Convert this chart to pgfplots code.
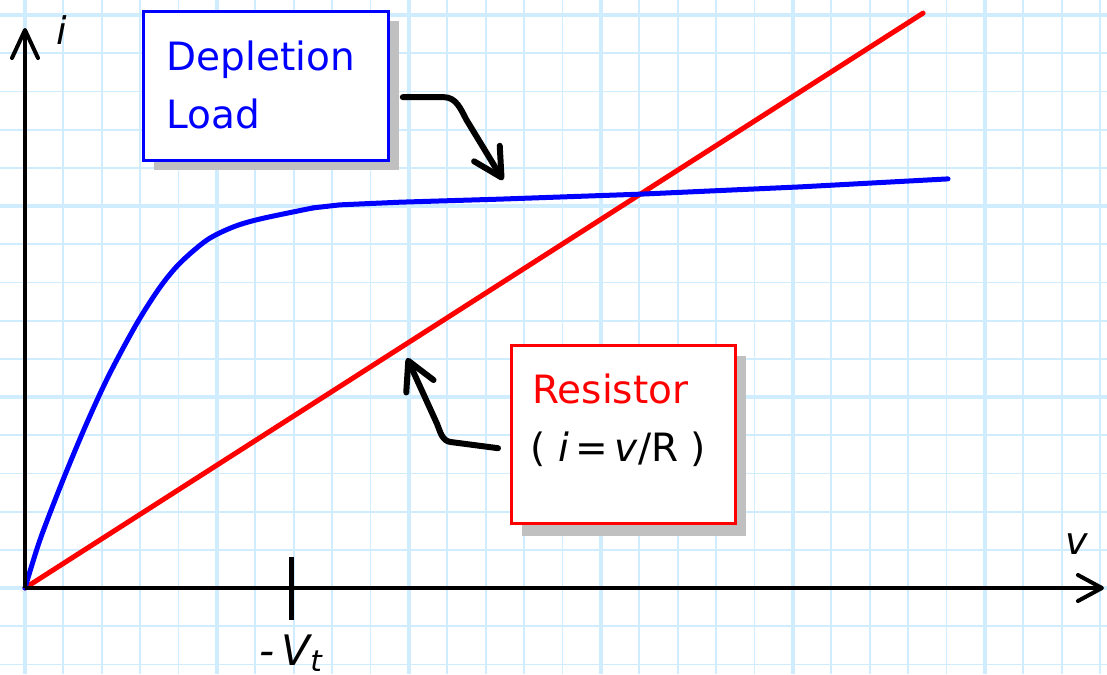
\documentclass[border=0pt]{standalone}
\usepackage{fontspec}
\setmainfont{DejaVu Sans}
\usepackage{pgfplots}
\pgfplotsset{compat=1.18}
\usetikzlibrary{arrows.meta}
\definecolor{gridblue}{RGB}{208,237,255}
\definecolor{shadowgray}{RGB}{192,192,192}
\definecolor{pureblue}{RGB}{0,0,255}
\definecolor{purered}{RGB}{255,0,0}
\begin{document}
\begin{tikzpicture}
\begin{axis}[name=ax, scale only axis, width=553.5pt, height=337pt,
  xmin=-0.651, xmax=28.18, ymin=-2.251, ymax=15.393,
  axis line style={draw=none}, tick style={draw=none},
  xtick={0,5,...,25}, ytick={0,5,10,15},
  minor xtick={-1,0,...,29}, minor ytick={-3,-2,...,16},
  grid=both,
  major grid style={line width=1.7pt, color=gridblue},
  minor grid style={line width=0.9pt, color=gridblue},
  xticklabels={}, yticklabels={}, clip=false]
% resistor line
\addplot[purered, line width=2.5pt, no marks, line cap=round] coordinates {(0,0) (23.39,15.05)};
% depletion load curve
\addplot[pureblue, line width=2.5pt, no marks, smooth, tension=0.5, line join=round, line cap=round] coordinates {
(0,0) (0.39,1.26) (0.99,2.83) (1.61,4.32) (2.20,5.60) (2.92,6.94) (3.52,7.88) (4.04,8.51) (4.74,9.11) (5.42,9.45) (6.12,9.66) (7.50,9.95)};
\addplot[pureblue, line width=2.5pt, no marks, line join=round, line cap=round] coordinates {
(7.50,9.95) (8.20,10.03) (9.77,10.10) (12.37,10.18) (16.02,10.31) (20.18,10.50) (24.04,10.71)};
% axes
\draw[line width=2pt, -{Straight Barb[length=14pt,width=13pt,round]}] (axis cs:0,0) -- (axis cs:0,14.66);
\draw[line width=2pt, -{Straight Barb[length=12pt,width=13pt,round]}] (axis cs:0,0) -- (axis cs:28.1,0);
\draw[line width=2.5pt] (axis cs:6.93,0.81) -- (axis cs:6.93,-0.84);
\node[font=\fontsize{19}{22}\selectfont\itshape] at (axis cs:0.96,14.6) {i};
\node[font=\fontsize{19}{22}\selectfont\itshape] at (axis cs:27.40,1.15) {v};
\node[font=\fontsize{21}{24}\selectfont\itshape, anchor=base] at (axis cs:6.93,-2.02) {-\,V\textsubscript{t}};
% depletion box
\fill[shadowgray] (axis cs:3.35,14.83) rectangle (axis cs:9.73,10.93);
\draw[pureblue, line width=1.6pt, fill=white] (axis cs:3.086,15.09) rectangle (axis cs:9.466,11.19);
\node[anchor=base west, text=pureblue, font=\fontsize{19.5}{22}\selectfont] at (axis cs:3.50,13.56) {Depletion};
\node[anchor=base west, text=pureblue, font=\fontsize{19.5}{22}\selectfont] at (axis cs:3.50,12.04) {Load};
% resistor box
\fill[shadowgray] (axis cs:12.95,6.07) rectangle (axis cs:18.79,1.37);
\draw[purered, line width=1.6pt, fill=white] (axis cs:12.67,6.35) rectangle (axis cs:18.50,1.68);
\node[anchor=base west, text=purered, font=\fontsize{19.5}{22}\selectfont] at (axis cs:13.03,4.84) {Resistor};
\node[anchor=base west, font=\fontsize{19.5}{22}\selectfont] at (axis cs:12.98,3.30) {( \textit{i}\,=\,\textit{v}/R )};
% annotation arrows
\draw[line width=3pt, line cap=round, line join=round, -{Straight Barb[length=14pt,width=15pt,round]}]
  (axis cs:9.84,12.85) -- (axis cs:10.9,12.85) to[out=0,in=118] (axis cs:11.5,12.25) -- (axis cs:12.45,10.68);
\draw[line width=3pt, line cap=round, line join=round, -{Straight Barb[length=14pt,width=15pt,round]}]
  (axis cs:12.32,3.66) -- (axis cs:11.1,3.82) to[out=175,in=-68] (axis cs:10.73,4.3) -- (axis cs:9.95,6.02);
\end{axis}
\pgfresetboundingbox
\useasboundingbox (ax.south west) rectangle (ax.north east);
\end{tikzpicture}
\end{document}
